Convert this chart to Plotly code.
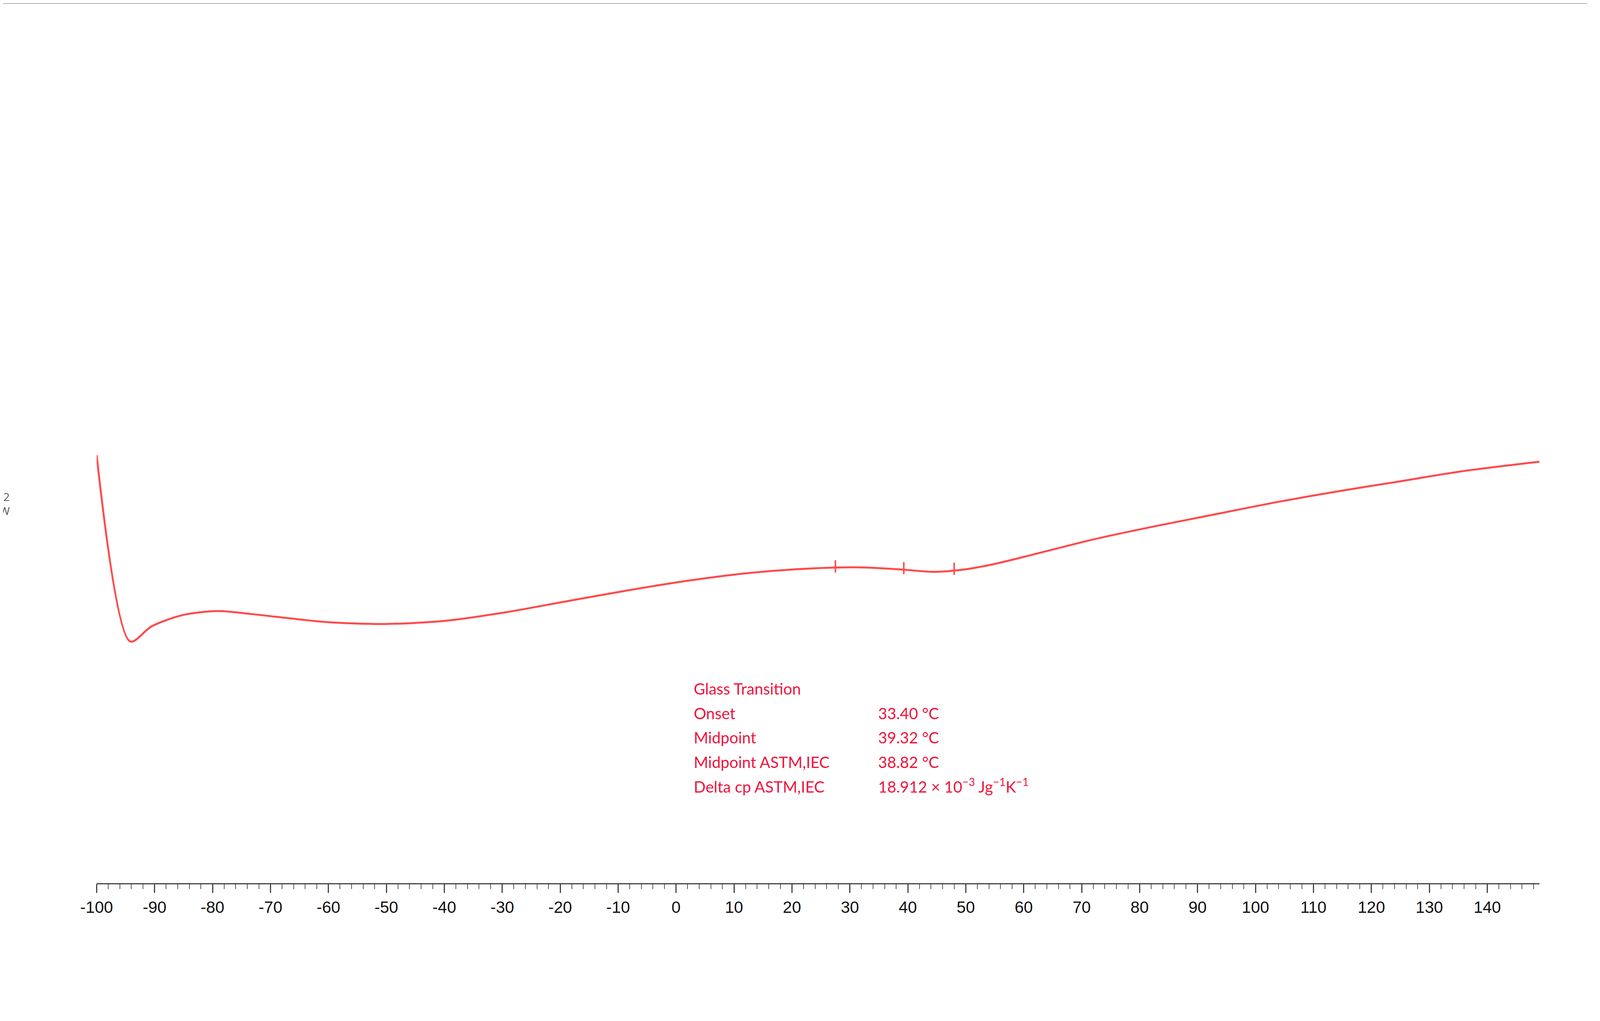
import numpy as np
import plotly.graph_objects as go

temp_c = [-100, -94.2, -90.5, -85.3, -79.2, -73, -60.8, -50.3, -39.8, -29.2, -18.7, -8.2, 2.3, 12.8,
          23.3, 32, 39, 44.3, 49.6, 54.8, 61.8, 72.3, 82.8, 93.3, 103.8, 114.4, 124.9, 135.4, 149]
heat_flow_mw = [1.086, -0.136, -0.036, 0.036, 0.064, 0.043, -0.007, -0.021, 0.0, 0.057, 0.129, 0.2, 0.264,
                0.314, 0.343, 0.35, 0.336, 0.321, 0.336, 0.371, 0.436, 0.536, 0.621, 0.7, 0.779, 0.85,
                0.914, 0.979, 1.043]
event_temps = [27.5, 39.3, 48.0]
tick_vals = list(range(-100, 150, 10))
tick_text = [str(v) for v in tick_vals]
result_labels = ["Onset", "Midpoint", "Midpoint ASTM,IEC", "Delta cp ASTM,IEC"]
result_values = ["33.40 °C", "39.32 °C", "38.82 °C", "18.912 × 10<sup>−3</sup> Jg<sup>−1</sup>K<sup>−1</sup>"]

# reference layout measured on a 1545-wide view
Wd = 1545.0
Hd = Wd * 2615 / 4398
dx0, dx1 = 76 / Wd, 1498 / Wd
dy0, dy1 = 1 - 808 / Hd, 1 - 30 / Hd
xr = [-100, 149]
yr = [(567 - 808) / 140, (567 - 30) / 140]

def px(xp):
    return (xp / Wd - dx0) / (dx1 - dx0)
def py(yp):
    return ((1 - yp / Hd) - dy0) / (dy1 - dy0)

red = "#ff4b4b"
tred = "#f0143c"
fig = go.Figure()
fig.add_trace(go.Scatter(x=temp_c, y=heat_flow_mw, mode="lines",
                         line=dict(color=red, width=5, shape="spline", smoothing=0.8), hoverinfo="skip"))

for t in event_temps:
    yv = float(np.interp(t, temp_c, heat_flow_mw))
    fig.add_shape(type="line", x0=t, x1=t, y0=yv - 0.03, y1=yv + 0.05, line=dict(color=red, width=4))

fig.add_shape(type="rect", xref="paper", yref="paper", x0=px(33), x1=px(1511), y0=py(836), y1=py(30),
              line=dict(color="#b0b0b0", width=4))
fig.add_shape(type="path", xref="x", yref="y",
              path="M -101,2 L -100.2,2 L -100.2,0 L -101,0", line=dict(color="#909090", width=4))
fig.add_annotation(x=px(68), y=py(419), xref="paper", yref="paper", text="2<br>mW", showarrow=False,
                   xanchor="right", align="right", font=dict(family="Open Sans", size=28, color="#555"))

fig.add_annotation(x=px(33), y=py(16), xref="paper", yref="paper", text="<b>^exo</b>", showarrow=False,
                   xanchor="left", font=dict(family="Liberation Sans", size=44, color="#222"))
fig.add_annotation(x=px(33), y=py(853), xref="paper", yref="paper", text="<b>Lab: METTLER</b>", showarrow=False,
                   xanchor="left", font=dict(family="Liberation Sans", size=48, color="#333"))
fig.add_annotation(x=px(1508), y=py(853), xref="paper", yref="paper",
                   text="<b>ST<span style='color:#ff2020'>A</span>R<sup>e</sup> SW 12.10</b>", showarrow=False,
                   xanchor="right", font=dict(family="Liberation Sans", size=48, color="#333"))
fig.add_annotation(x=px(773), y=py(887), xref="paper", yref="paper", text="(<b>a</b>)", showarrow=False,
                   font=dict(family="Liberation Serif", size=64, color="#000"))
fig.add_annotation(x=px(1489), y=py(824), xref="paper", yref="paper", text="°C", showarrow=False,
                   font=dict(family="Liberation Sans", size=42, color="#111"))

fig.add_annotation(x=px(687), y=py(571), xref="paper", yref="paper", text="Glass Transition", showarrow=False,
                   xanchor="left", font=dict(family="Lato", size=40, color=tred))
for i, (lab, val) in enumerate(zip(result_labels, result_values)):
    yy = py(590 + 19 * i)
    fig.add_annotation(x=px(687), y=yy, xref="paper", yref="paper", text=lab, showarrow=False,
                       xanchor="left", font=dict(family="Lato", size=40, color=tred))
    fig.add_annotation(x=px(854), y=yy, xref="paper", yref="paper", text=val, showarrow=False,
                       xanchor="left", font=dict(family="Lato", size=40, color=tred))

fig.update_layout(
    autosize=True, showlegend=False, paper_bgcolor="white", plot_bgcolor="white",
    margin=dict(l=0, r=0, t=0, b=0),
    xaxis=dict(domain=[dx0, dx1], range=xr, showgrid=False, zeroline=False, showline=True,
               linecolor="#444", linewidth=3, ticks="outside", ticklen=22, tickwidth=3, tickcolor="#444",
               tickvals=tick_vals, ticktext=tick_text,
               tickfont=dict(family="Liberation Sans", size=42, color="#111"),
               minor=dict(dtick=2, ticklen=12, tickwidth=2, tickcolor="#555", ticks="outside")),
    yaxis=dict(domain=[dy0, dy1], range=yr, visible=False),
)
fig.write_html("out.html", default_width="99vw", default_height="98vh", config={"responsive": True})
